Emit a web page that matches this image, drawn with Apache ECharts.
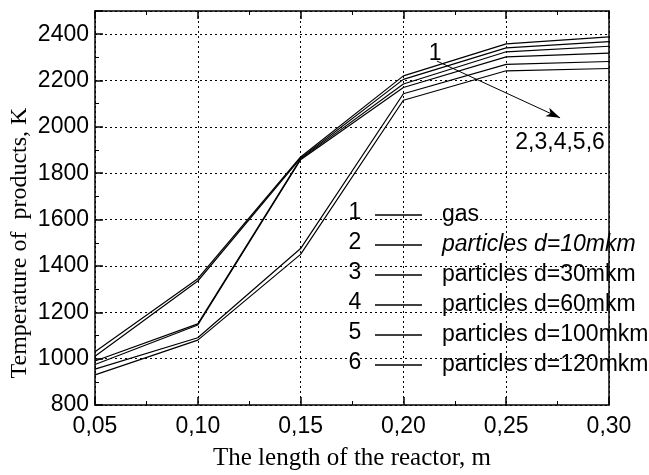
<!DOCTYPE html>
<html>
<head>
<meta charset="utf-8">
<script src="https://cdn.jsdelivr.net/npm/echarts@6/dist/echarts.min.js"></script>
<style>
  html, body { margin: 0; padding: 0; background: #fff; }
  #main { width: 649px; height: 475px; }
</style>
</head>
<body>
<div id="main"></div>
<script>
// reactor length, m
const xValues = [0.05, 0.10, 0.15, 0.20, 0.25, 0.30];
// temperature of products, K
const gas  = [1030, 1345, 1870, 2220, 2358, 2388];
const d10  = [1010, 1335, 1865, 2205, 2341, 2368];
const d30  = [990, 1150, 1862, 2185, 2324, 2348];
const d60  = [975, 1145, 1858, 2170, 2302, 2318];
const d100 = [955, 1090, 1475, 2143, 2270, 2282];
const d120 = [930, 1080, 1450, 2115, 2242, 2252];

const seriesNames = ['gas', 'particles d=10mkm', 'particles d=30mkm',
  'particles d=60mkm', 'particles d=100mkm', 'particles d=120mkm'];
const seriesNums = ['1', '2', '3', '4', '5', '6'];
const seriesData = [gas, d10, d30, d60, d100, d120];

// arrow "1" -> "2,3,4,5,6"
const arrowFrom = [0.2163, 2284];
const arrowTo = [0.2762, 2039];
const label1At = [0.2154, 2314];
const label2At = [0.2762, 1931];

const sans = '"Liberation Sans", Arial, sans-serif';
const serif = '"Liberation Serif", "Times New Roman", serif';

var chart = echarts.init(document.getElementById('main'));

var series = seriesData.map(function (arr, i) {
  var s = {
    name: seriesNames[i],
    type: 'line',
    symbol: 'none',
    data: xValues.map(function (x, j) { return [x, arr[j]]; }),
    lineStyle: { color: '#000', width: 1.2 },
    itemStyle: { color: '#000' },
    z: 5
  };
  if (i === 0) {
    s.markLine = {
      silent: true,
      symbol: ['none', 'arrow'],
      symbolSize: [7, 14],
      label: { show: false },
      lineStyle: { color: '#000', width: 1, type: 'solid' },
      data: [[{ coord: arrowFrom }, { coord: arrowTo }]]
    };
    s.markPoint = {
      silent: true,
      symbol: 'circle',
      symbolSize: 0,
      label: {
        show: true, position: 'inside', color: '#000',
        fontFamily: sans, fontSize: 23,
        formatter: function (p) { return p.name; }
      },
      data: [
        { name: '1', coord: label1At },
        { name: '2,3,4,5,6', coord: label2At }
      ]
    };
  }
  return s;
});

var legendData = seriesNames.map(function (n, i) {
  var d = { name: n };
  if (i === 1) d.textStyle = { fontStyle: 'italic' };
  return d;
});

var numLabels = seriesNums.map(function (t, i) {
  return {
    type: 'text',
    x: 355, y: 213 + i * 30,
    style: {
      text: t, fill: '#000', font: '23px ' + sans,
      align: 'center', verticalAlign: 'middle'
    }
  };
});

var dotted = { show: true, lineStyle: { color: '#000', width: 1, type: [2, 3] } };

chart.setOption({
  animation: false,
  backgroundColor: '#fff',
  grid: { left: 95, right: 40, top: 11, bottom: 70 },
  legend: {
    orient: 'vertical',
    left: 370, top: 198,
    itemWidth: 47, itemHeight: 1.5,
    itemGap: 6,
    icon: 'rect',
    selectedMode: false,
    textStyle: {
      color: '#000', fontFamily: sans, fontSize: 23,
      lineHeight: 24, padding: [0, 0, 0, 15]
    },
    data: legendData
  },
  xAxis: [
    {
      type: 'value', min: 0.05, max: 0.30, interval: 0.05,
      axisLine: { lineStyle: { color: '#000', width: 1.5 } },
      axisTick: { inside: true, length: 8, lineStyle: { color: '#000', width: 1.5 } },
      minorTick: { show: true, splitNumber: 2, length: 4, lineStyle: { color: '#000', width: 1 } },
      splitLine: dotted,
      axisLabel: {
        color: '#000', fontFamily: sans, fontSize: 23, margin: 10,
        formatter: function (v) { return v.toFixed(2).replace('.', ','); }
      }
    },
    {
      type: 'value', position: 'top', min: 0.05, max: 0.30, interval: 0.05,
      axisLine: { show: true, onZero: false, lineStyle: { color: '#000', width: 1.5 } },
      axisTick: { show: true, inside: true, length: 8, lineStyle: { color: '#000', width: 1.5 } },
      minorTick: { show: true, splitNumber: 2, length: 4, lineStyle: { color: '#000', width: 1 } },
      splitLine: { show: false },
      axisLabel: { show: false }
    }
  ],
  yAxis: [
    {
      type: 'value', min: 800, max: 2500, interval: 200,
      axisLine: { show: true, lineStyle: { color: '#000', width: 1.5 } },
      axisTick: { show: true, inside: true, length: 8, lineStyle: { color: '#000', width: 1.5 } },
      minorTick: { show: true, splitNumber: 2, length: 4, lineStyle: { color: '#000', width: 1 } },
      splitLine: dotted,
      axisLabel: {
        color: '#000', fontFamily: sans, fontSize: 23, margin: 6,
        showMaxLabel: false,
        formatter: function (v) { return String(v); }
      }
    },
    {
      type: 'value', position: 'right', min: 800, max: 2500, interval: 200,
      axisLine: { show: true, onZero: false, lineStyle: { color: '#000', width: 1.5 } },
      axisTick: { show: false },
      splitLine: { show: false },
      axisLabel: { show: false }
    }
  ],
  graphic: [
    {
      type: 'text',
      x: 352, y: 458,
      style: {
        text: 'The length of the reactor, m', fill: '#000',
        font: '25px ' + serif, align: 'center', verticalAlign: 'middle'
      }
    },
    {
      type: 'text',
      x: 20, y: 243,
      rotation: Math.PI / 2,
      style: {
        text: 'Temperature of  products, K', fill: '#000',
        font: '24px ' + serif, align: 'center', verticalAlign: 'middle'
      }
    }
  ].concat(numLabels),
  series: series
});
</script>
</body>
</html>
